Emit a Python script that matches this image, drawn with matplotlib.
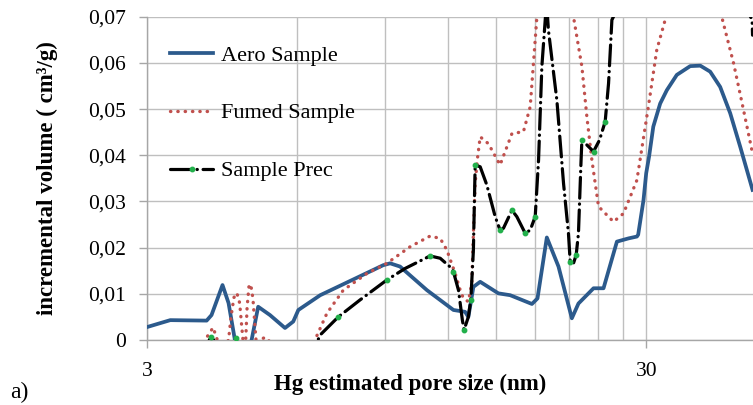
import numpy as np
import matplotlib.pyplot as plt
from matplotlib.ticker import FixedLocator, FuncFormatter, NullFormatter

plt.rcParams['font.family'] = ['Liberation Serif', 'DejaVu Serif']

# pore size (nm) / incremental volume (cm3/g)
# values below 0 are parts of the curve that Excel clipped at the axis
aero_size = [3.0, 3.34, 3.95, 4.04, 4.25, 4.37, 4.50, 4.62, 4.78, 4.86,
             5.01, 5.29, 5.67, 5.89, 6.03, 6.67, 8.92, 9.21, 9.64, 10.91,
             12.33, 13.01, 13.21, 13.52, 13.95, 15.17, 16.02, 17.71, 18.17,
             18.97, 20.02, 21.29, 21.95, 23.53, 24.64, 26.21, 27.65, 28.74,
             28.91, 29.63, 30.0, 30.4, 31.0, 32.0, 33.0, 34.55, 36.75, 38.5,
             40.3, 42.2, 44.2, 46.3, 49.0]
aero_vol = [0.0028, 0.0043, 0.0042, 0.0054, 0.0119, 0.0080, 0.0, -0.004, -0.004, 0.0,
            0.0072, 0.0054, 0.0026, 0.0040, 0.0065, 0.0097, 0.0162, 0.0166, 0.0159, 0.0108,
            0.0065, 0.0061, 0.0050, 0.0115, 0.0126, 0.0101, 0.0097, 0.0078, 0.0090,
            0.0222, 0.0159, 0.0047, 0.0079, 0.0112, 0.0112, 0.0213, 0.0220, 0.0224,
            0.0228, 0.0303, 0.0361, 0.0397, 0.0462, 0.0512, 0.0541, 0.0574, 0.0593, 0.0594,
            0.0581, 0.0548, 0.0491, 0.0418, 0.0325]

fumed_size = [3.85, 3.92, 4.07, 4.15, 4.25, 4.37, 4.42, 4.48, 4.54, 4.60, 4.67,
              4.70, 4.73, 4.76, 4.80, 4.84, 4.89, 4.96, 5.01, 5.06, 5.17, 5.25,
              5.5, 6.3, 6.51, 6.88, 7.42, 8.27, 9.07, 10.10, 11.07, 11.60, 11.96,
              12.43, 12.72, 12.91, 13.21, 13.42, 13.52, 13.63, 13.79, 13.95, 14.49,
              15.29, 16.15, 17.03, 17.57, 17.98, 18.12, 19.7, 21.45, 22.30, 22.82,
              23.35, 24.08, 25.80, 27.02, 28.74, 30.3, 31.5, 32.8, 37.3, 42.5,
              44.9, 47.0, 49.0]
fumed_vol = [-0.002, 0.0, 0.0027, 0.0, -0.002, 0.0, 0.0050, 0.0092, 0.0102, 0.0080, 0.0,
             -0.002, 0.0, 0.0070, 0.0115, 0.0121, 0.0090, 0.0, -0.001, 0.0, 0.0006, 0.0,
             -0.003, -0.003, 0.0, 0.0058, 0.0108, 0.0144, 0.0166, 0.0202, 0.0225, 0.0220, 0.0195,
             0.0144, 0.0108, 0.0090, 0.0083, 0.0123, 0.0230, 0.0340, 0.0397, 0.0440, 0.0425,
             0.0379, 0.0447, 0.0451, 0.0505, 0.0650, 0.0700, 0.0950, 0.0700, 0.0592, 0.0483,
             0.0390, 0.0289, 0.0256, 0.0274, 0.0346, 0.0505, 0.0628, 0.0696, 0.0900, 0.0700,
             0.0599, 0.0498, 0.0404]

prec_size = [3.90, 4.00, 4.03, 4.08, 4.20, 4.45, 4.52, 4.58, 6.30, 6.60,
             6.67, 7.25, 8.02, 9.07, 9.87, 11.07, 11.60, 12.24, 12.33, 12.62,
             12.85, 12.95, 13.21, 13.36, 13.52, 13.63, 13.95, 14.38, 14.95, 15.29,
             15.53, 16.15, 16.52, 17.17, 17.57, 17.98, 18.26, 18.54, 18.83, 18.95,
             19.11, 19.87, 20.49, 20.96, 21.13, 21.45, 21.72, 21.95, 22.19, 22.30,
             23.53, 24.19, 24.83, 25.22, 25.61, 35.1, 48.9, 49.0]
prec_vol = [-0.002, 0.0, 0.0006, 0.0, -0.003, -0.002, 0.0004, -0.002, -0.003, 0.0,
            0.0011, 0.0050, 0.0087, 0.0130, 0.0155, 0.0182, 0.0177, 0.0155, 0.0148, 0.0108,
            0.0043, 0.0022, 0.0050, 0.0087, 0.0195, 0.0379, 0.0375, 0.0336, 0.0267, 0.0238,
            0.0242, 0.0281, 0.0267, 0.0231, 0.0238, 0.0267, 0.0390, 0.0592, 0.0693, 0.0730,
            0.0671, 0.0519, 0.0339, 0.0231, 0.0169, 0.0166, 0.0184, 0.0231, 0.0375, 0.0433,
            0.0408, 0.0433, 0.0473, 0.0556, 0.0693, 0.1000, 0.0693, 0.0660]
# points where Excel shows the green data markers
prec_marked = [2, 6, 11, 13, 15, 18, 21, 23, 25, 29, 31, 33, 35, 44, 46, 49, 50, 52]

y_ticks = [0, 0.01, 0.02, 0.03, 0.04, 0.05, 0.06, 0.07]
x_major = [3, 30]
x_minor = [6, 9, 12, 15, 18, 21, 24, 27, 60]

fig = plt.figure(figsize=(7.53, 4.05), dpi=100)
ax = fig.add_axes([147 / 753, 1 - 340 / 405, 1 - 147 / 753, (340 - 16.7) / 405])

ax.plot(aero_size, aero_vol, color='#2C5A8C', lw=2.7, label='Aero Sample',
        solid_joinstyle='round', zorder=3)
ax.plot(fumed_size, fumed_vol, color='#C0504D', lw=2.4, linestyle=(0, (0.1, 2.1)),
        dash_capstyle='round', label='Fumed Sample', zorder=4)
ax.plot(prec_size, prec_vol, color='black', lw=2.3, linestyle=(0, (6.5, 1.8, 0.1, 1.8)),
        dash_capstyle='round', marker='o', markersize=3.2, markerfacecolor='#22B04B',
        markeredgecolor='#22B04B', markevery=prec_marked, label='Sample Prec', zorder=5)

ax.set_xscale('log')
ax.set_xlim(3, 49.1)
ax.set_ylim(0, 0.07)

ax.xaxis.set_major_locator(FixedLocator(x_major))
ax.xaxis.set_minor_locator(FixedLocator(x_minor))
ax.xaxis.set_major_formatter(FuncFormatter(lambda v, p: f'{v:g}'))
ax.xaxis.set_minor_formatter(NullFormatter())
ax.yaxis.set_major_locator(FixedLocator(y_ticks))
ax.yaxis.set_major_formatter(FuncFormatter(
    lambda v, p: '0' if abs(v) < 1e-9 else f'{v:.2f}'.replace('.', ',')))

ax.grid(True, which='both', axis='x', color='#BFBFBF', lw=1)
ax.grid(True, which='major', axis='y', color='#BFBFBF', lw=1)
ax.set_axisbelow(True)

for side in ['top', 'right']:
    ax.spines[side].set_visible(False)
for side in ['left', 'bottom']:
    ax.spines[side].set_color('#A6A6A6')
    ax.spines[side].set_linewidth(1)

ax.tick_params(axis='both', which='major', direction='out', length=6, width=1,
               color='#A6A6A6', labelsize=15.5)
ax.tick_params(axis='y', which='major', pad=9)
ax.tick_params(axis='x', which='minor', length=0)
ax.tick_params(axis='x', which='major', pad=10)

ax.set_xlabel('Hg estimated pore size (nm)', fontsize=16.5, fontweight='bold')
ax.xaxis.set_label_coords((410 - 147) / (753 - 147), -0.105)
ax.set_ylabel('incremental volume ( cm³/g)', fontsize=16.5, fontweight='bold')
ax.yaxis.set_label_coords((58 - 147) / (753 - 147), 0.50)

fig.text(10 / 753, 1 - 392 / 405, 'a)', fontsize=17, ha='left', va='center')

ax.legend(loc='upper left', bbox_to_anchor=(170 / 753, 1 - 45 / 405),
          bbox_transform=fig.transFigure, frameon=False, fontsize=16,
          labelspacing=1.68, handlelength=1.95, handletextpad=0.35,
          borderpad=0, borderaxespad=0, numpoints=1)

fig.savefig('out.png', dpi=100)
